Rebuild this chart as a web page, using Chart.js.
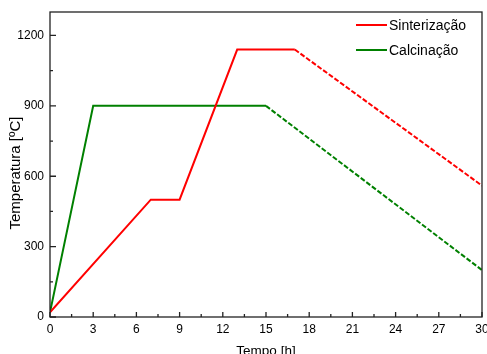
<!DOCTYPE html>
<html>
<head>
<meta charset="utf-8">
<script src="https://cdn.jsdelivr.net/npm/chart.js@4.4.1/dist/chart.umd.min.js"></script>
<style>
  html, body { margin: 0; padding: 0; background: #fff; overflow: hidden; }
  #wrap { width: 487px; height: 354px; }
</style>
</head>
<body>
<div id="wrap"><canvas id="chart" width="487" height="354"></canvas></div>
<script>
// dados
const sinterTime = [0, 7, 9, 13, 17, 30];
const sinterTemp = [20, 500, 500, 1140, 1140, 560];
const calcTime = [0, 3, 15, 30];
const calcTemp = [20, 900, 900, 200];
const xTicks = [0, 3, 6, 9, 12, 15, 18, 21, 24, 27, 30];
const yTicks = [0, 300, 600, 900, 1200];
const seriesNames = ['Sinterização', 'Calcinação'];
const seriesColors = ['#ff0000', '#008000'];
const xTitle = 'Tempo [h]';
const yTitle = 'Temperatura [ºC]';
// a partir deste índice a linha fica tracejada (resfriamento)
const dashFrom = [4, 2];

const FONT = 'Arial, "Liberation Sans", sans-serif';

const toPoints = (xs, ys) => xs.map((x, i) => ({ x: x, y: ys[i] }));

// moldura, ticks para dentro, títulos dos eixos e legenda
const framePlugin = {
    id: 'frame',
    afterDraw(chart) {
        const ctx = chart.ctx;
        const a = chart.chartArea;
        const xs = chart.scales.x;
        const ys = chart.scales.y;
        ctx.save();
        ctx.strokeStyle = '#222';
        ctx.lineWidth = 1.3;
        ctx.strokeRect(a.left, a.top, a.right - a.left, a.bottom - a.top);

        ctx.beginPath();
        for (let i = 0; i < xTicks.length; i++) {
            const px = xs.getPixelForValue(xTicks[i]);
            ctx.moveTo(px, a.bottom);
            ctx.lineTo(px, a.bottom - 5);
            if (i < xTicks.length - 1) {
                const mx = xs.getPixelForValue((xTicks[i] + xTicks[i + 1]) / 2);
                ctx.moveTo(mx, a.bottom);
                ctx.lineTo(mx, a.bottom - 3);
            }
        }
        for (let i = 0; i < yTicks.length; i++) {
            const py = ys.getPixelForValue(yTicks[i]);
            ctx.moveTo(a.left, py);
            ctx.lineTo(a.left + 6, py);
            const mid = yTicks[i] + 150;
            if (mid < ys.max) {
                const my = ys.getPixelForValue(mid);
                ctx.moveTo(a.left, my);
                ctx.lineTo(a.left + 3, my);
            }
        }
        ctx.stroke();

        // títulos
        ctx.fillStyle = '#000';
        ctx.font = '13.5px ' + FONT;
        ctx.textAlign = 'center';
        ctx.textBaseline = 'alphabetic';
        ctx.fillText(xTitle, (a.left + a.right) / 2, 355);
        ctx.save();
        ctx.translate(20, 173);
        ctx.rotate(-Math.PI / 2);
        ctx.font = '15px ' + FONT;
        ctx.fillText(yTitle, 0, 0);
        ctx.restore();

        // legenda
        ctx.font = '14px ' + FONT;
        ctx.textAlign = 'left';
        ctx.textBaseline = 'middle';
        chart.data.datasets.forEach((ds, i) => {
            const y = 25 + i * 25;
            ctx.strokeStyle = ds.borderColor;
            ctx.lineWidth = 2;
            ctx.beginPath();
            ctx.moveTo(356, y);
            ctx.lineTo(387, y);
            ctx.stroke();
            ctx.fillText(ds.label, 389, y + 1);
        });
        ctx.restore();
    }
};

const datasets = seriesNames.map((name, i) => ({
    label: name,
    data: i === 0 ? toPoints(sinterTime, sinterTemp) : toPoints(calcTime, calcTemp),
    borderColor: seriesColors[i],
    borderWidth: 2,
    pointRadius: 0,
    tension: 0,
    fill: false,
    segment: {
        borderDash: c => c.p0DataIndex >= dashFrom[i] ? [5, 2] : undefined
    }
}));

new Chart(document.getElementById('chart'), {
    type: 'line',
    data: { datasets: datasets },
    options: {
        responsive: false,
        animation: false,
        layout: { padding: { top: 12, right: 5, bottom: 0, left: 0 } },
        plugins: {
            legend: { display: false },
            tooltip: { enabled: false }
        },
        scales: {
            x: {
                type: 'linear',
                min: 0,
                max: 30,
                grid: { display: false, drawTicks: false },
                border: { display: false },
                afterBuildTicks: s => { s.ticks = xTicks.map(v => ({ value: v })); },
                afterFit: s => { s.height = 37; s.paddingLeft = 0; s.paddingRight = 0; },
                ticks: { color: '#000', font: { size: 12, family: FONT }, padding: 5, maxRotation: 0,
                         callback: v => String(v) }
            },
            y: {
                min: 0,
                max: 1300,
                grid: { display: false, drawTicks: false },
                border: { display: false },
                afterBuildTicks: s => { s.ticks = yTicks.map(v => ({ value: v })); },
                afterFit: s => { s.width = 50; s.paddingTop = 0; s.paddingBottom = 0; },
                ticks: { color: '#000', font: { size: 12, family: FONT }, padding: 6,
                         callback: v => String(v) }
            }
        }
    },
    plugins: [framePlugin]
});
</script>
</body>
</html>
